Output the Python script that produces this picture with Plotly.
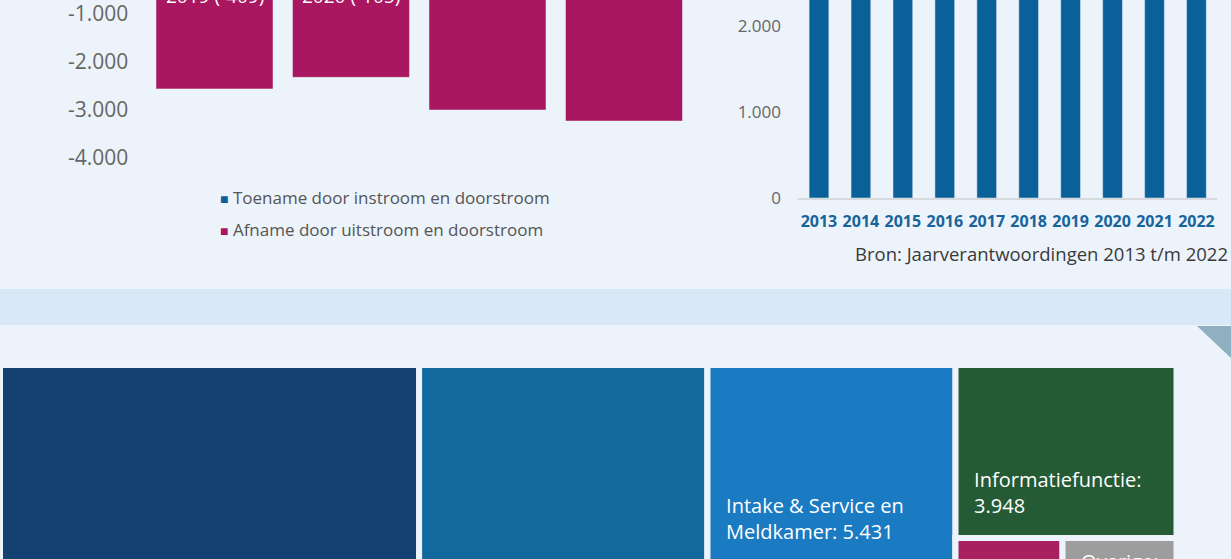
import plotly.graph_objects as go

# ---------------- data ----------------
# left chart: flows per year (the positive bars lie above the visible crop)
FLOW_YEARS = ["2019", "2020", "2021", "2022"]
TOENAME = [2150, 2210, 3300, 3500]
AFNAME = [-2560, -2320, -3000, -3230]
NET_LABELS = ["2019 (-409)", "2020 (-105)", "", ""]
LEFT_TICKS = [-4000, -3000, -2000, -1000, 0]
LEFT_TICK_TEXT = ["-4.000", "-3.000", "-2.000", "-1.000", "0"]

# right chart: yearly totals (bars run above the visible crop)
YEARS = ["2013", "2014", "2015", "2016", "2017", "2018", "2019", "2020", "2021", "2022"]
TOTALS = [2950, 3010, 3080, 3120, 3190, 3260, 3310, 3420, 3480, 3560]
RIGHT_TICKS = [0, 1000, 2000]
RIGHT_TICK_TEXT = ["0", "1.000", "2.000"]

# treemap
TM_IDS = ["root", "A", "B", "Ccol", "C", "C2", "Dcol", "Info", "D2", "M", "G", "D3"]
TM_PARENTS = ["", "root", "root", "root", "Ccol", "Ccol", "root", "Dcol", "Dcol", "D2", "D2", "Dcol"]
TM_VALUES = [0, 13850, 9530, 0, 5431, 2765, 0, 3948, 0, 906, 965, 1484]
TM_LINES = [[], [], [], [], ["Intake & Service en", "Meldkamer: 5.431"], [], [],
            ["Informatiefunctie:", "3.948"], [], [], ["Overige:", "965"], []]

# ---------------- style ----------------
BG = "#ECF3FB"
BAND = "#D9E8F6"
BLUE = "#0A6098"
MAGENTA = "#A8175F"
TM_COLORS = [BG, "#134171", "#11699E", BG, "#1A7AC2", "#2C86C8", BG, "#245A34", BG,
             "#A8205F", "#9D9D9D", "#5B8DB8"]
FONT = "Open Sans"
W, H = 1231, 690
NB = "\u00a0"
# invisible spacer line under each tile label (controls the bottom padding)
SPACER_BIG = f"<span style='font-size:30px'>{NB}</span>"
SPACER_SMALL = f"<sup>{NB}</sup>"
TM_SPACER = ["", "", "", "", SPACER_BIG, "", "", SPACER_SMALL, "", "", SPACER_SMALL, ""]


def py(p):
    return 1 - p / H


def px(p):
    return p / W


def tile_text(lines, spacer):
    if not lines:
        return ""
    body = "<br>".join(NB * 3 + ln for ln in lines)
    return body + "<br>" + spacer


fig = go.Figure()

fig.add_trace(go.Bar(x=FLOW_YEARS, y=TOENAME, marker_color=BLUE, name="Toename door instroom en doorstroom",
                     xaxis="x", yaxis="y", showlegend=False))
fig.add_trace(go.Bar(x=FLOW_YEARS, y=AFNAME, marker_color=MAGENTA, name="Afname door uitstroom en doorstroom",
                     xaxis="x", yaxis="y", showlegend=False))
fig.add_trace(go.Bar(x=YEARS, y=TOTALS, marker_color=BLUE, xaxis="x2", yaxis="y2", showlegend=False,
                     width=0.47))

fig.add_trace(go.Treemap(
    ids=TM_IDS, labels=TM_IDS, parents=TM_PARENTS, values=TM_VALUES,
    text=[tile_text(l, s) for l, s in zip(TM_LINES, TM_SPACER)],
    branchvalues="remainder", sort=False, textinfo="text",
    textposition="bottom left",
    tiling=dict(packing="slice-dice", pad=0),
    marker=dict(colors=TM_COLORS, line=dict(width=6, color=BG), pad=dict(t=0, l=0, r=0, b=0),
                depthfade=False),
    pathbar=dict(visible=False),
    textfont=dict(family=FONT, size=20, color="white"),
    domain=dict(x=[0, 1176.5 / W], y=[py(685), py(365)]),
    hoverinfo="skip",
))

fig.update_layout(
    width=W, height=H,
    margin=dict(l=0, r=0, t=0, b=0, autoexpand=False),
    paper_bgcolor=BG, plot_bgcolor=BG,
    barmode="relative", bargap=0.143,
    font=dict(family=FONT, color="#666666"),
    xaxis=dict(type="category", domain=[px(146.25), px(692.25)], range=[-0.5, 3.5],
               showticklabels=False, showgrid=False, zeroline=False, automargin=False),
    yaxis=dict(domain=[py(172), 1], range=[-4291.7, -708.3], tickvals=LEFT_TICKS, ticktext=LEFT_TICK_TEXT,
               showgrid=False, zeroline=False, tickfont=dict(size=21, color="#666666"),
               ticklabelstandoff=17, automargin=False, ticklabeloverflow="allow"),
    xaxis2=dict(type="category", domain=[px(798), px(1217.4)], anchor="y2", showgrid=False, zeroline=False,
                showline=True, linecolor="#D5DADF", linewidth=2, automargin=False,
                tickfont=dict(size=16, color="#17649B", weight="bold"), ticklabelstandoff=8),
    yaxis2=dict(domain=[py(198), 1], anchor="x2", range=[0, 2302.3], tickvals=RIGHT_TICKS,
                ticktext=RIGHT_TICK_TEXT, showgrid=False, zeroline=False, automargin=False,
                tickfont=dict(size=17, color="#666666"), ticklabelstandoff=16,
                ticklabeloverflow="allow"),
)

annotations = []
for i, lab in enumerate(NET_LABELS):
    if lab:
        annotations.append(dict(x=i, xref="x", y=py(-4), yref="paper", yanchor="middle", text=lab,
                                showarrow=False, font=dict(size=19, color="white", family=FONT)))
annotations.append(dict(x=px(218), xref="paper", xanchor="left", y=py(197), yref="paper", yanchor="middle",
                        text=f"<span style='color:{BLUE};font-size:14px'>■</span> Toename door instroom en doorstroom",
                        showarrow=False, font=dict(size=17, color="#555555", family=FONT)))
annotations.append(dict(x=px(218), xref="paper", xanchor="left", y=py(229), yref="paper", yanchor="middle",
                        text=f"<span style='color:{MAGENTA};font-size:14px'>■</span> Afname door uitstroom en doorstroom",
                        showarrow=False, font=dict(size=17, color="#555555", family=FONT)))
annotations.append(dict(x=px(1230), xref="paper", xanchor="right", y=py(254), yref="paper", yanchor="middle",
                        text="Bron: Jaarverantwoordingen 2013 t/m 2022",
                        showarrow=False, font=dict(size=18.5, color="#3A3A3A", family=FONT)))
fig.update_layout(annotations=annotations)

fig.update_layout(shapes=[
    dict(type="rect", xref="paper", yref="paper", x0=0, x1=1, y0=py(325), y1=py(289),
         fillcolor=BAND, line=dict(width=0), layer="below"),
    dict(type="path", xref="paper", yref="paper",
         path=f"M {px(1197)},{py(326)} L 1,{py(326)} L 1,{py(358)} Z",
         fillcolor="#8FB0C1", line=dict(width=0), layer="above"),
])

fig.write_html("out.html", config={"displayModeBar": False}, post_script=(
    "document.body.style.margin='0';"
    "document.body.style.overflow='hidden';"
    "document.documentElement.style.overflow='hidden';"
))
